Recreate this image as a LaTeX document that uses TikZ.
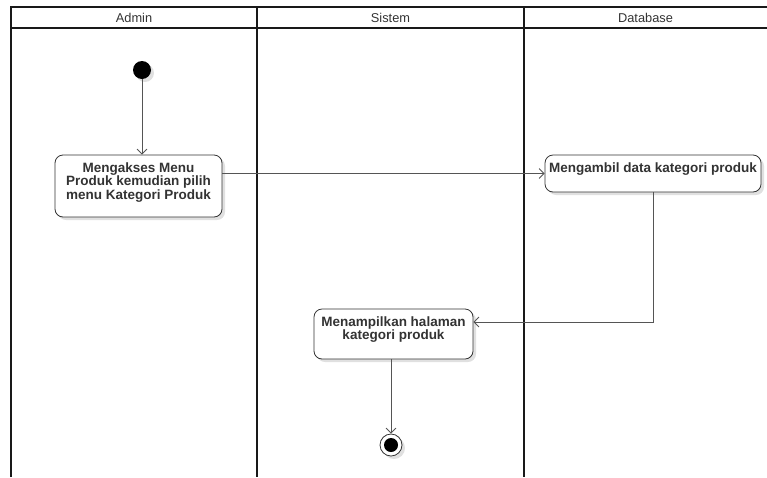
\documentclass[tikz,border=0pt]{standalone}
\usepackage{fontspec}
\setmainfont{Liberation Sans}
\usetikzlibrary{arrows.meta,shadows}
\definecolor{ink}{HTML}{333333}
\definecolor{wire}{HTML}{555555}
\tikzset{
  lane/.style={line width=2pt, draw=black!90},
  lanehead/.style={font=\fontsize{12.8}{14}\selectfont, text=ink, inner sep=0pt},
  softshadow/.style={drop shadow={shadow xshift=3pt, shadow yshift=-3pt, opacity=0.12, fill=black}},
  actbox/.style={draw=ink, line width=0.8pt, rounded corners=8pt, fill=white, softshadow, inner sep=0pt},
  acttext/.style={font=\bfseries\fontsize{13.5}{13.3}\selectfont, text=ink, align=center, inner sep=0pt, anchor=north},
  flow/.style={draw=wire, line width=0.8pt, -{Straight Barb[length=5pt,width=10pt]}},
}
\begin{document}
\begin{tikzpicture}[x=1pt,y=-1pt]
  \useasboundingbox (0,0) rectangle (767,477);
  % swimlanes
  \draw[lane] (11,477) -- (11,7) -- (767,7);
  \draw[lane] (11,28) -- (767,28);
  \draw[lane] (257,7) -- (257,477);
  \draw[lane] (524,7) -- (524,477);
  \node[lanehead] (hAdmin) at (134,17.5) {Admin};
  \node[lanehead] (hSistem) at (390.5,17.5) {Sistem};
  \node[lanehead] (hDb) at (645.5,17.5) {Database};

  % initial and final states
  \node[circle, fill=black, minimum size=18pt, inner sep=0pt, softshadow] (start) at (142,70) {};
  \node[circle, draw=ink, line width=0.8pt, fill=white, minimum size=22pt, inner sep=0pt, softshadow] (stop) at (391,445) {};
  \node[circle, fill=black, minimum size=14pt, inner sep=0pt] (stopdot) at (stop) {};

  % activities
  \node[actbox, minimum width=167pt, minimum height=62pt] (a1) at (138.5,186) {};
  \node[acttext] (t1) at ([yshift=-8pt]a1.north) {Mengakses Menu\\Produk kemudian pilih\\menu Kategori Produk};

  \node[actbox, minimum width=216pt, minimum height=37pt] (a2) at (653,173.5) {};
  \node[acttext] (t2) at ([yshift=-8pt]a2.north) {Mengambil data kategori produk};

  \node[actbox, minimum width=159pt, minimum height=50pt] (a3) at (393.5,334) {};
  \node[acttext] (t3) at ([yshift=-8pt]a3.north) {Menampilkan halaman\\kategori produk};

  % control flow
  \draw[flow] (start) -- (start |- a1.north);
  \draw[flow] (a1.east |- a2.west) -- (a2.west);
  \draw[flow] (a2.south) |- ([yshift=12pt]a3.east);
  \draw[flow] (a3.south -| stop) -- (stop);
\end{tikzpicture}
\end{document}
